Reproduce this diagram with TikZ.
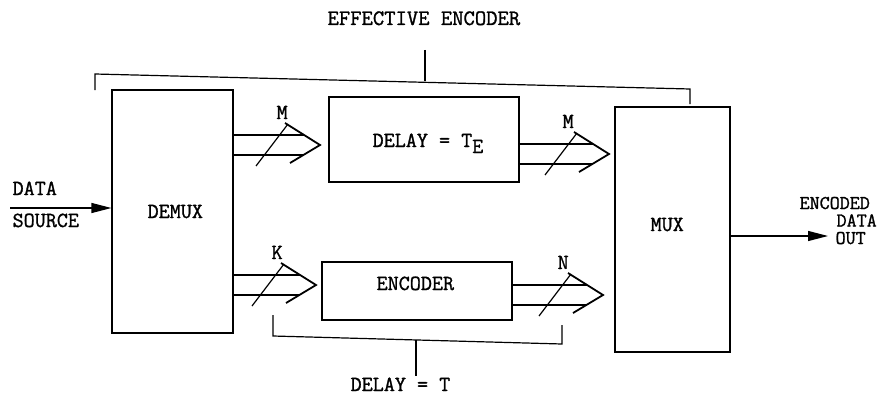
\documentclass[tikz,border=0pt]{standalone}
\usepackage{fontspec}
\setmonofont{Latin Modern Mono}[FakeBold=1.2]
\usetikzlibrary{arrows.meta}
\newcommand{\busarr}[5]{%
  % #1 source node, #2 tip x, #3 tip y, #4 label x, #5 label
  \draw (#1.east |- 0,#3-10) -- (#2-16,#3-10);
  \draw (#1.east |- 0,#3+10) -- (#2-17,#3+10);
  \draw[line width=1.8pt] (#2-35,#3-22) -- (#2,#3) -- (#2-30,#3+18);
  \draw (#2-64,#3+21) -- (#2-32,#3-21);
  \node[lbl] at (#4,#3-26) {#5};
}
\begin{document}
\begin{tikzpicture}[x=1pt,y=-1pt,line width=1.2pt,
  lbl/.style={font=\fontsize{21.5}{24}\selectfont\ttfamily,inner sep=0pt,anchor=base west},
  blk/.style={draw,inner sep=0pt}]
\useasboundingbox (0,0) rectangle (882,396);

% boxes
\node[blk,minimum width=121pt,minimum height=243pt] (demux) at (172.5,211.5) {};
\node[blk,minimum width=190pt,minimum height=85pt] (delay) at (424,139.5) {};
\node[blk,minimum width=190pt,minimum height=58pt] (enc) at (417,291) {};
\node[blk,minimum width=115pt,minimum height=245pt] (mux) at (672.5,229.5) {};

% box texts
\node[lbl] (tdemux) at (147,218) {DEMUX};
\node[lbl] (tdelay) at (372,147) {DELAY = T\raisebox{-6pt}{E}};
\node[lbl] (tenc) at (376,290) {ENCODER};
\node[lbl] (tmux) at (650,231) {MUX};

% buses
\busarr{demux}{320}{145}{276}{M}
\busarr{delay}{609}{154}{562}{M}
\busarr{demux}{316}{285}{271}{K}
\busarr{enc}{603}{295}{557}{N}

% input / output
\coordinate (din) at (10,208);
\draw[-{Triangle[length=20pt,width=10pt]}] (din) -- (demux.west |- din);
\node[lbl] (tdata) at (12,195) {DATA};
\node[lbl] (tsrc) at (12,227) {SOURCE};

\coordinate (dout) at (828,236);
\draw[-{Triangle[length=20pt,width=10pt]}] (mux.east |- dout) -- (dout);
\begin{scope}[lbl/.append style={font=\fontsize{19.5}{22}\selectfont\ttfamily}]
\node[lbl] (tenc1) at (799,209) {ENCODED};
\node[lbl] (tenc2) at (836,226.5) {DATA};
\node[lbl] (tenc3) at (835,244) {OUT};
\end{scope}

% top bracket
\coordinate (tbl) at (95,74);
\coordinate (tbr) at (690,89);
\draw (95,90) -- (tbl) -- (tbr) -- (690,104);
\draw (425,50) -- (425,81);
\node[lbl,font=\fontsize{22}{26}\selectfont\ttfamily] (teff) at (327,25) {EFFECTIVE ENCODER};

% bottom bracket
\draw (273,315) -- (273,336) -- (562,344) -- (562,325);
\draw (416,340) -- (416,376);
\node[lbl] (tdt) at (350,391) {DELAY = T};
\end{tikzpicture}
\end{document}
